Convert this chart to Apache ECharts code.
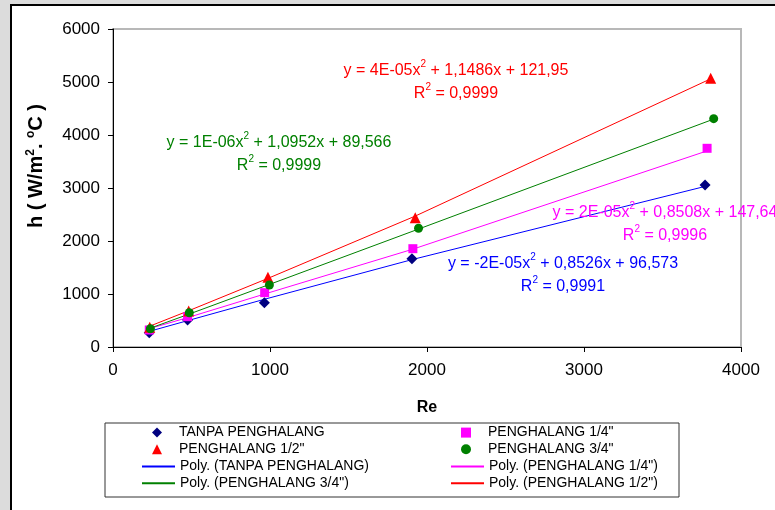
<!DOCTYPE html>
<html>
<head>
<meta charset="utf-8">
<script src="https://cdn.jsdelivr.net/npm/echarts@6/dist/echarts.min.js"></script>
<style>
html, body { margin: 0; padding: 0; background: #dcdcdc; }
#chart { width: 775px; height: 510px; }
</style>
</head>
<body>
<div id="chart"></div>
<script>
// Re values and measured h for each configuration
var reTanpa = [231, 475, 964, 1904, 3771];
var hTanpa = [270, 509, 836, 1666, 3057];
var reQuarter = [231, 475, 966, 1910, 3784];
var hQuarter = [321, 572, 1025, 1855, 3749];
var reHalf = [234, 482, 987, 1925, 3807];
var hHalf = [375, 680, 1315, 2440, 5070];
var reThreeQ = [238, 486, 996, 1946, 3826];
var hThreeQ = [345, 647, 1170, 2240, 4308];

// trend line heights, at the same Re
var trendTanpa = [295, 497, 900, 1648, 3030];
var trendQuarter = [346, 554, 1000, 1846, 3700];
var trendHalf = [393, 684, 1295, 2470, 5060];
var trendThreeQ = [356, 622, 1180, 2225, 4300];

var xTicks = [0, 4000, 1000];
var yTicks = [0, 6000, 1000];

var FONT = '"Liberation Sans", Arial, sans-serif';

function pares(xs, ys) {
    var out = [];
    for (var i = 0; i < xs.length; i++) {
        out.push([xs[i], ys[i]]);
    }
    return out;
}

function puntos(nombre, xs, ys, simbolo, tam, color) {
    return {
        name: nombre,
        type: 'scatter',
        data: pares(xs, ys),
        symbol: simbolo,
        symbolSize: tam,
        itemStyle: { color: color, opacity: 1 },
        z: 5
    };
}

function tendencia(nombre, xs, ys, color) {
    return {
        name: nombre,
        type: 'line',
        data: pares(xs, ys),
        symbol: 'none',
        lineStyle: { color: color, width: 1 },
        itemStyle: { color: color },
        z: 2
    };
}

function ecuacion(cx, cy, color, texto) {
    return {
        type: 'text',
        x: cx,
        y: cy,
        z: 10,
        style: {
            text: texto,
            fill: color,
            align: 'center',
            verticalAlign: 'middle',
            rich: {
                n: { fontSize: 16, fontFamily: FONT, lineHeight: 23 },
                s: { fontSize: 10, fontFamily: FONT, lineHeight: 12, verticalAlign: 'top' }
            }
        }
    };
}

// legend lines: hide the dot echarts puts on line icons
function sinPunto(nombres) {
    return nombres.map(function(n) {
        return { name: n, itemStyle: { opacity: 0 } };
    });
}

var chart = echarts.init(document.getElementById('chart'));

var leyendaPuntos = {
    orient: 'vertical',
    top: 425.6,
    padding: 0,
    itemWidth: 10,
    itemHeight: 10,
    itemGap: 2.7,
    textStyle: { fontSize: 14, fontFamily: FONT, color: '#000', lineHeight: 14, padding: [0, 0, 0, 12] },
    selectedMode: false
};

var leyendaLineas = {
    orient: 'vertical',
    top: 459.6,
    padding: 0,
    itemWidth: 33,
    itemHeight: 10,
    itemGap: 2.7,
    textStyle: { fontSize: 14, fontFamily: FONT, color: '#000', lineHeight: 14 },
    selectedMode: false
};

chart.setOption({
    animation: false,
    textStyle: { fontFamily: FONT },
    grid: {
        left: 113,
        right: 34,
        top: 29,
        bottom: 163,
        show: true,
        borderColor: '#b8b8b8',
        borderWidth: 2
    },
    xAxis: {
        type: 'value',
        min: xTicks[0],
        max: xTicks[1],
        interval: xTicks[2],
        name: 'Re',
        nameLocation: 'middle',
        nameGap: 53,
        nameTextStyle: { fontSize: 16, fontWeight: 'bold', color: '#000', fontFamily: FONT },
        axisLine: { show: true, onZero: false, lineStyle: { color: '#000', width: 1 } },
        axisTick: { show: true, length: 5, lineStyle: { color: '#000' } },
        axisLabel: {
            fontSize: 17, color: '#000', margin: 15, fontFamily: FONT,
            formatter: function(v) { return String(v); }
        },
        splitLine: { show: false }
    },
    yAxis: {
        type: 'value',
        min: yTicks[0],
        max: yTicks[1],
        interval: yTicks[2],
        axisLine: { show: true, onZero: false, lineStyle: { color: '#000', width: 1 } },
        axisTick: { show: true, length: 5, lineStyle: { color: '#000' } },
        axisLabel: {
            fontSize: 17, color: '#000', margin: 13, fontFamily: FONT,
            formatter: function(v) { return String(v); }
        },
        splitLine: { show: false }
    },
    legend: [
        Object.assign({}, leyendaPuntos, {
            left: 152,
            data: ['TANPA PENGHALANG', 'PENGHALANG 1/2"']
        }),
        Object.assign({}, leyendaLineas, {
            left: 141,
            data: sinPunto(['Poly. (TANPA PENGHALANG)', 'Poly. (PENGHALANG 3/4")'])
        }),
        Object.assign({}, leyendaPuntos, {
            left: 461,
            data: ['PENGHALANG 1/4"', 'PENGHALANG 3/4"']
        }),
        Object.assign({}, leyendaLineas, {
            left: 450,
            data: sinPunto(['Poly. (PENGHALANG 1/4")', 'Poly. (PENGHALANG 1/2")'])
        })
    ],
    graphic: [
        {
            type: 'rect',
            z: -20,
            shape: { x: 11, y: 5, width: 800, height: 560 },
            style: { fill: '#fff', stroke: '#000', lineWidth: 2 }
        },
        {
            type: 'rect',
            z: -10,
            shape: { x: 105, y: 423, width: 574, height: 74 },
            style: { fill: '#fff', stroke: '#333', lineWidth: 1 }
        },
        {
            type: 'text',
            x: 36,
            y: 166,
            rotation: Math.PI / 2,
            z: 10,
            style: {
                text: '{b|h ( W/m}{s|2}{b|. }{s|o}{b|C )}',
                fill: '#000',
                align: 'center',
                verticalAlign: 'middle',
                rich: {
                    b: { fontSize: 20, fontWeight: 'bold', fontFamily: FONT, lineHeight: 22 },
                    s: { fontSize: 12, fontWeight: 'bold', fontFamily: FONT, lineHeight: 12, verticalAlign: 'top' }
                }
            }
        },
        ecuacion(456, 82, '#ff0000', '{n|y = 4E-05x}{s|2}{n| + 1,1486x + 121,95}\n{n|R}{s|2}{n| = 0,9999}'),
        ecuacion(279, 154, '#008000', '{n|y = 1E-06x}{s|2}{n| + 1,0952x + 89,566}\n{n|R}{s|2}{n| = 0,9999}'),
        ecuacion(665, 224, '#ff00ff', '{n|y = 2E-05x}{s|2}{n| + 0,8508x + 147,64}\n{n|R}{s|2}{n| = 0,9996}'),
        ecuacion(563, 275, '#0000ff', '{n|y = -2E-05x}{s|2}{n| + 0,8526x + 96,573}\n{n|R}{s|2}{n| = 0,9991}')
    ],
    series: [
        puntos('TANPA PENGHALANG', reTanpa, hTanpa, 'diamond', 11, '#000080'),
        puntos('PENGHALANG 1/4"', reQuarter, hQuarter, 'rect', 9, '#ff00ff'),
        puntos('PENGHALANG 1/2"', reHalf, hHalf, 'triangle', 11, '#ff0000'),
        puntos('PENGHALANG 3/4"', reThreeQ, hThreeQ, 'circle', 9, '#008000'),
        tendencia('Poly. (TANPA PENGHALANG)', reTanpa, trendTanpa, '#0000ff'),
        tendencia('Poly. (PENGHALANG 1/4")', reQuarter, trendQuarter, '#ff00ff'),
        tendencia('Poly. (PENGHALANG 3/4")', reThreeQ, trendThreeQ, '#008000'),
        tendencia('Poly. (PENGHALANG 1/2")', reHalf, trendHalf, '#ff0000')
    ]
});
</script>
</body>
</html>
